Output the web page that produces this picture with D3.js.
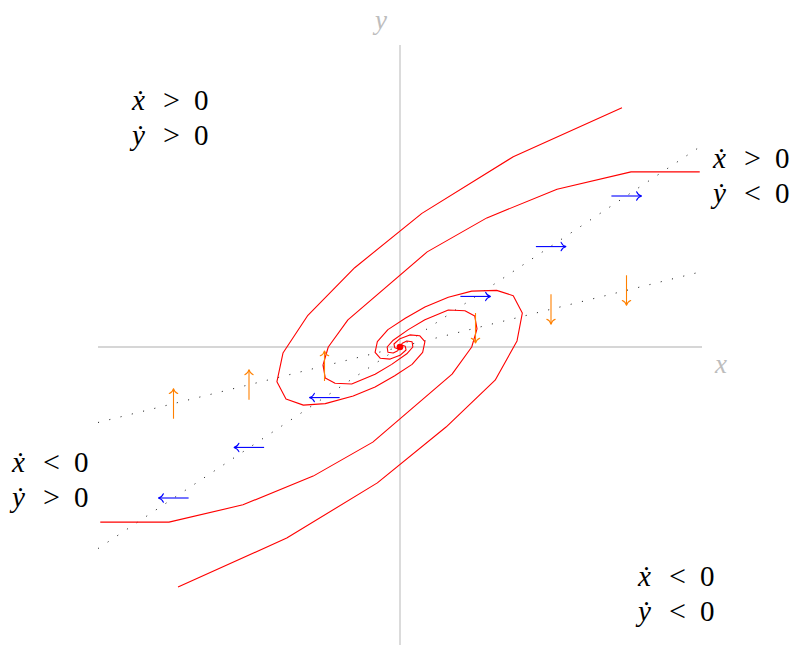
<!DOCTYPE html>
<html>
<head>
<meta charset="utf-8">
<script src="https://cdn.jsdelivr.net/npm/d3@7/dist/d3.min.js"></script>
<style>
  html, body { margin: 0; padding: 0; background: #fff; }
  svg { display: block; }
</style>
</head>
<body>
<svg id="chart" width="790" height="645"></svg>
<script>
// Phase portrait of a planar linear system: unstable focus at the origin,
// nullclines (dotted), flow direction marks on them, and four trajectories.

const xDomain = [-4, 4];
const yDomain = [-4, 4];

// Nullcline end points: ydot = 0 (steep) and xdot = 0 (shallow)
const nullclineYdot = [[-4, -2.67], [4, 2.67]];
const nullclineXdot = [[-4, -1.0], [4, 1.0]];

// Horizontal flow marks on the ydot = 0 nullcline
const blueArrowX = [-3, -2, -1, 1, 2, 3];
const blueArrowY = [-2.0, -1.33, -0.67, 0.67, 1.33, 2.0];
const blueArrowDir = [-1, -1, -1, 1, 1, 1];

// Vertical flow marks on the xdot = 0 nullcline
const orangeArrowX = [-3, -2, -1, 1, 2, 3];
const orangeArrowY = [-0.75, -0.5, -0.25, 0.25, 0.5, 0.75];
const orangeArrowDir = [1, 1, 1, -1, -1, -1];

// Trajectories (x, y), listed from the outer end toward the focus
const trajA = [
  [2.94, 3.17], [1.50, 2.52], [0.29, 1.77], [-0.60, 1.05], [-1.22, 0.42],
  [-1.55, -0.08], [-1.63, -0.46], [-1.51, -0.69], [-1.28, -0.77], [-0.99, -0.75],
  [-0.62, -0.65], [-0.33, -0.53], [-0.07, -0.38], [0.16, -0.23], [0.30, -0.07],
  [0.33, 0.07], [0.26, 0.15], [0.13, 0.16], [0.00, 0.11], [-0.08, 0.04],
  [-0.07, -0.01], [-0.01, -0.03], [0, 0]
];
const trajA2 = [
  [-2.94, -3.18], [-1.50, -2.53], [-0.30, -1.80], [0.61, -1.06], [1.26, -0.44],
  [1.55, 0.08], [1.62, 0.45], [1.50, 0.68], [1.28, 0.75], [0.95, 0.74],
  [0.64, 0.66], [0.33, 0.53], [0.07, 0.38], [-0.16, 0.23], [-0.30, 0.07],
  [-0.33, -0.07], [-0.26, -0.15], [-0.13, -0.16], [0.00, -0.11], [0.08, -0.04],
  [0.07, 0.01], [0.01, 0.03], [0, 0]
];
const trajB = [
  [3.97, 2.32], [3.06, 2.32], [2.08, 2.09], [1.15, 1.71], [0.36, 1.26],
  [-0.69, 0.36], [-0.95, 0.00], [-1.02, -0.24], [-0.99, -0.41], [-0.86, -0.48],
  [-0.64, -0.49], [-0.33, -0.36], [-0.11, -0.23], [0.09, -0.09], [0.17, 0.00],
  [0.16, 0.07], [0.09, 0.08], [0.03, 0.05], [0, 0]
];
const trajB2 = [
  [-3.97, -2.32], [-3.06, -2.32], [-2.08, -2.09], [-1.15, -1.71], [-0.36, -1.26],
  [0.69, -0.36], [0.95, 0.00], [1.02, 0.24], [0.99, 0.41], [0.86, 0.48],
  [0.64, 0.49], [0.33, 0.36], [0.11, 0.23], [-0.09, 0.09], [-0.17, 0.00],
  [-0.16, -0.07], [-0.09, -0.08], [-0.03, -0.05], [0, 0]
];

// Sign regions
const regionXdot = [">", ">", "<", "<"];
const regionYdot = [">", "<", ">", "<"];

const axisLabels = ["x", "y"];

// ------------------------------------------------------------------

const svg = d3.select("#chart");
const x = d3.scaleLinear().domain(xDomain).range([98, 702]);
const y = d3.scaleLinear().domain(yDomain).range([649, 45]);

const axisGrey = "#c8c8c8";
const labelGrey = "#bdbdbd";
const serif = "Liberation Serif, Times New Roman, serif";

// axes
svg.append("line")
  .attr("x1", x(xDomain[0])).attr("x2", x(xDomain[1]))
  .attr("y1", y(0)).attr("y2", y(0))
  .attr("stroke", axisGrey).attr("stroke-width", 1.3);
svg.append("line")
  .attr("x1", x(0)).attr("x2", x(0))
  .attr("y1", y(yDomain[0])).attr("y2", y(yDomain[1]))
  .attr("stroke", axisGrey).attr("stroke-width", 1.3);

// axis names
svg.append("text").text(axisLabels[0])
  .attr("x", 721).attr("y", 373)
  .attr("text-anchor", "middle")
  .attr("font-family", serif).attr("font-style", "italic")
  .attr("font-size", 27).attr("fill", labelGrey);
svg.append("text").text(axisLabels[1])
  .attr("x", 381).attr("y", 29)
  .attr("text-anchor", "middle")
  .attr("font-family", serif).attr("font-style", "italic")
  .attr("font-size", 27).attr("fill", labelGrey);

// nullclines (dotted)
const line = d3.line().x(d => x(d[0])).y(d => y(d[1]));
[nullclineYdot, nullclineXdot].forEach(nc => {
  svg.append("path")
    .attr("d", line(nc))
    .attr("fill", "none")
    .attr("stroke", "#222")
    .attr("stroke-width", 1)
    .attr("stroke-dasharray", "1.1 10.5");
});

// trajectories
[trajA, trajA2, trajB, trajB2].forEach(tr => {
  svg.append("path")
    .attr("d", line(tr))
    .attr("fill", "none")
    .attr("stroke", "#ff0000")
    .attr("stroke-width", 1.1)
    .attr("stroke-linejoin", "round");
});

// arrow tips in the style of a "to" head
const defs = svg.append("defs");
function addTip(id, color) {
  defs.append("marker")
    .attr("id", id)
    .attr("viewBox", "-7 -6 9 12")
    .attr("refX", 0).attr("refY", 0)
    .attr("markerWidth", 9).attr("markerHeight", 12)
    .attr("markerUnits", "userSpaceOnUse")
    .attr("orient", "auto")
    .append("path")
    .attr("d", "M-5,-4.2 C-4,-1.6 -1.6,-0.4 0,0 C-1.6,0.4 -4,1.6 -5,4.2")
    .attr("fill", "none")
    .attr("stroke", color)
    .attr("stroke-width", 1.1)
    .attr("stroke-linecap", "round");
}
addTip("tipBlue", "#0000ff");
addTip("tipOrange", "#ff8000");

const half = 0.2; // half length of a flow mark, in data units
blueArrowX.forEach((vx, i) => {
  const vy = blueArrowY[i], d = blueArrowDir[i];
  svg.append("line")
    .attr("x1", x(vx - d * half)).attr("x2", x(vx + d * half))
    .attr("y1", y(vy)).attr("y2", y(vy))
    .attr("stroke", "#0000ff").attr("stroke-width", 1.1)
    .attr("marker-end", "url(#tipBlue)");
});
orangeArrowX.forEach((vx, i) => {
  const vy = orangeArrowY[i], d = orangeArrowDir[i];
  svg.append("line")
    .attr("x1", x(vx)).attr("x2", x(vx))
    .attr("y1", y(vy - d * half)).attr("y2", y(vy + d * half))
    .attr("stroke", "#ff8000").attr("stroke-width", 1.1)
    .attr("marker-end", "url(#tipOrange)");
});

// fixed point
svg.append("circle")
  .attr("cx", x(0)).attr("cy", y(0)).attr("r", 3.3)
  .attr("fill", "#ff0000");

// sign-region labels: dotted variable, relation, zero
const regionPos = [
  { left: 131, base: 110 },
  { left: 712, base: 168 },
  { left: 11, base: 472 },
  { left: 637, base: 586 }
];
const lineGap = 34.5;
function mathLine(left, base, varName, rel) {
  const t = svg.append("text")
    .attr("font-family", serif).attr("fill", "#000")
    .attr("font-size", 29)
    .attr("y", base);
  t.append("tspan").text(varName)
    .attr("x", left + 1).attr("font-style", "italic");
  t.append("tspan").text(rel)
    .attr("x", left + 32).attr("font-size", 30);
  t.append("tspan").text("0")
    .attr("x", left + 63);
}
regionPos.forEach((p, i) => {
  mathLine(p.left, p.base, "\u1E8B", regionXdot[i]);
  mathLine(p.left, p.base + lineGap, "\u1E8F", regionYdot[i]);
});
</script>
</body>
</html>
